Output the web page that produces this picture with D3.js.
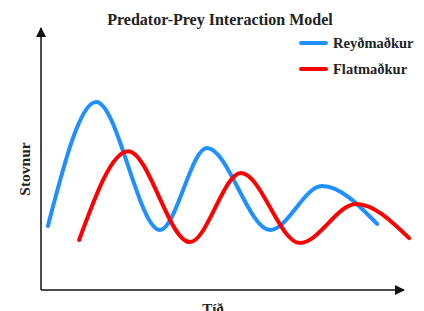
<!DOCTYPE html>
<html>
<head>
<meta charset="utf-8">
<script src="https://cdn.jsdelivr.net/npm/d3@7"></script>
<style>
  body { margin: 0; background: #fff; }
  text { font-family: "Liberation Serif", "Times New Roman", serif; font-weight: bold; fill: #222; }
</style>
</head>
<body>
<div id="container"></div>
<script>
// Series values (time, population)
const preyTime = [1.9, 15.2, 32.8, 45.7, 63.1, 77.4, 92.6];
const preyPop = [24.4, 71.8, 22.9, 54.2, 22.9, 39.7, 25.2];
const predTime = [10.5, 24, 41, 55.1, 71.3, 86.8, 101.4];
const predPop = [19.1, 53, 18.3, 44.7, 17.9, 32.8, 19.8];
const seriesNames = ["Reyðmaðkur", "Flatmaðkur"];
const seriesColors = ["#1e90ff", "#ff0000"];

const width = 424;
const height = 311;
const marginLeft = 41;
const axisRight = 404;
const axisTop = 28;
const axisBottom = 290;

const x = d3.scaleLinear().domain([0, 100]).range([marginLeft, axisRight]);
const y = d3.scaleLinear().domain([0, 100]).range([axisBottom, axisTop]);

const svg = d3.create("svg")
    .attr("width", width)
    .attr("height", height);

const defs = svg.append("defs");
defs.append("marker")
    .attr("id", "arrow")
    .attr("viewBox", "0 0 10 10")
    .attr("refX", 9)
    .attr("refY", 5)
    .attr("markerWidth", 10)
    .attr("markerHeight", 10)
    .attr("markerUnits", "userSpaceOnUse")
    .attr("orient", "auto")
    .append("path")
    .attr("d", "M0,0L10,5L0,10Z")
    .attr("fill", "#111");

// axes drawn as arrows
svg.append("line")
    .attr("x1", x(0)).attr("y1", y(0))
    .attr("x2", x(0)).attr("y2", y(100))
    .attr("stroke", "#111").attr("stroke-width", 1.5)
    .attr("marker-end", "url(#arrow)");
svg.append("line")
    .attr("x1", x(0)).attr("y1", y(0))
    .attr("x2", x(100)).attr("y2", y(0))
    .attr("stroke", "#111").attr("stroke-width", 1.5)
    .attr("marker-end", "url(#arrow)");

const line = d3.line()
    .x(d => x(d[0]))
    .y(d => y(d[1]))
    .curve(d3.curveMonotoneX);

const series = [
    d3.zip(preyTime, preyPop),
    d3.zip(predTime, predPop)
];

series.forEach((pts, i) => {
    svg.append("path")
        .datum(pts)
        .attr("fill", "none")
        .attr("stroke", seriesColors[i])
        .attr("stroke-width", 4)
        .attr("stroke-linecap", "round")
        .attr("d", line);
});

// title
svg.append("text")
    .attr("x", 220)
    .attr("y", 25)
    .attr("text-anchor", "middle")
    .style("font-size", "16px")
    .text("Predator-Prey Interaction Model");

// axis labels (x label sits partly below the frame, as in the original)
svg.append("text")
    .attr("x", 213)
    .attr("y", 314)
    .attr("text-anchor", "middle")
    .style("font-size", "15px")
    .text("Tíð");
svg.append("text")
    .attr("transform", `translate(30,${(axisTop + axisBottom) / 2 + 10}) rotate(-90)`)
    .attr("text-anchor", "middle")
    .style("font-size", "15.5px")
    .text("Stovnur");

// legend
const legend = svg.append("g")
    .selectAll("g")
    .data(seriesNames)
    .join("g")
    .attr("transform", (d, i) => `translate(300,${43 + i * 26})`);
legend.append("line")
    .attr("x1", 1).attr("x2", 26)
    .attr("stroke", (d, i) => seriesColors[i])
    .attr("stroke-width", 4)
    .attr("stroke-linecap", "round");
legend.append("text")
    .attr("x", 33)
    .attr("dy", "0.35em")
    .style("font-size", "14.5px")
    .text(d => d);

d3.select("#container").append(() => svg.node());
</script>
</body>
</html>
